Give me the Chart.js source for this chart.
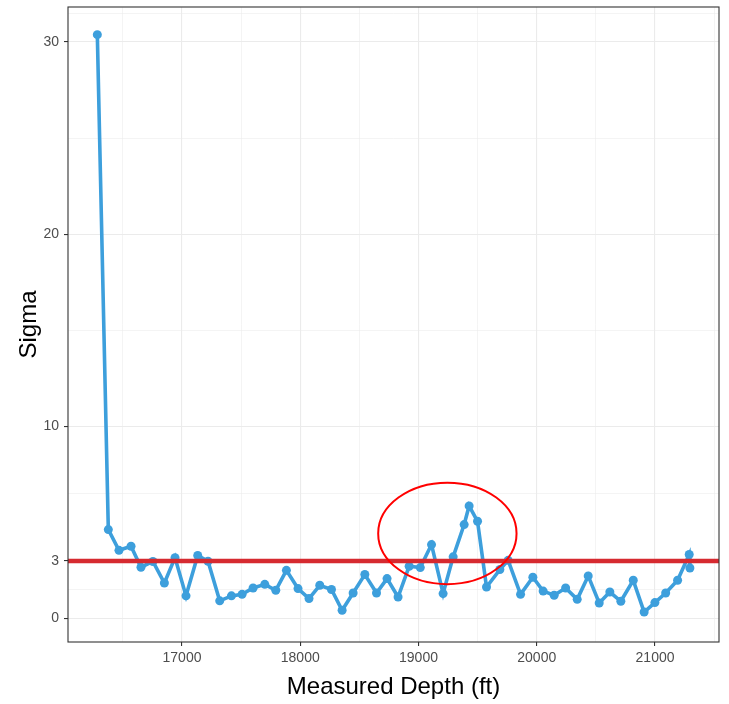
<!doctype html>
<html>
  <head>
    <script src="https://cdnjs.cloudflare.com/ajax/libs/Chart.js/4.4.1/chart.umd.min.js"></script>
    <style>
      body { margin: 0; background: #fff; }
      #box { width: 729px; height: 704px; }
    </style>
    <script>
      // depth (ft) and sigma
      let depth = [16284, 16377, 16467, 16569, 16653, 16754, 16851, 16941, 17034, 17133,
                   17220, 17319, 17418, 17508, 17601, 17700, 17793, 17883, 17981, 18074,
                   18165, 18264, 18354, 18447, 18546, 18645, 18734, 18827, 18921, 19015,
                   19110, 19208, 19293, 19386, 19428, 19499, 19575, 19688, 19758, 19863,
                   19967, 20054, 20147, 20244, 20342, 20435, 20528, 20618, 20711, 20816,
                   20908, 20999, 21090, 21191, 21289, 21295];
      let sigma = [30.38, 4.63, 3.55, 3.76, 2.67, 2.97, 1.85, 3.17, 1.18, 3.28,
                   2.98, 0.92, 1.18, 1.26, 1.59, 1.78, 1.47, 2.51, 1.56, 1.04,
                   1.73, 1.51, 0.43, 1.33, 2.29, 1.33, 2.08, 1.12, 2.72, 2.65,
                   3.85, 1.30, 3.21, 4.89, 5.86, 5.06, 1.64, 2.55, 3.03, 1.26,
                   2.15, 1.43, 1.21, 1.59, 1.00, 2.22, 0.81, 1.38, 0.90, 1.99,
                   0.34, 0.83, 1.33, 1.99, 3.33, 2.63];
      let threshold = 3;
      let xMajor = [17000, 18000, 19000, 20000, 21000];
      let xMinor = [16500, 17500, 18500, 19500, 20500, 21500];
      let yMajor = [0, 3, 10, 20, 30];
      let yMinor = [1.5, 6.5, 15, 25, 31.5];
      let xLimits = [16036, 21541];
      let yLimits = [-1.22, 31.82];
      // red circle drawn round the bump: centre and radii in data units
      let ringCenter = [19244, 4.43];
      let ringRadius = [585, 2.64];

      const blue = '#3d9fdc';
      const red = '#d62a30';

      function isMajor(list, v) { return list.indexOf(v) >= 0; }

      const panelPlugin = {
        id: 'panel',
        afterDatasetsDraw(chart) {
          const c = chart.ctx, xs = chart.scales.x, ys = chart.scales.y;
          const cx = xs.getPixelForValue(ringCenter[0]);
          const cy = ys.getPixelForValue(ringCenter[1]);
          const rx = Math.abs(xs.getPixelForValue(ringCenter[0] + ringRadius[0]) - cx);
          const ry = Math.abs(ys.getPixelForValue(ringCenter[1] + ringRadius[1]) - cy);
          c.save();
          c.beginPath();
          c.ellipse(cx, cy, rx, ry, 0, 0, Math.PI * 2);
          c.strokeStyle = '#ff0000';
          c.lineWidth = 2;
          c.stroke();
          const a = chart.chartArea;
          c.strokeStyle = '#333333';
          c.lineWidth = 1.1;
          c.strokeRect(a.left, a.top, a.right - a.left, a.bottom - a.top);
          c.restore();
        }
      };

      function startPage() {
        const pts = depth.map((d, i) => ({ x: d, y: sigma[i] }));
        new Chart(document.getElementById('c1'), {
          type: 'scatter',
          data: {
            datasets: [{
              data: [{ x: xLimits[0], y: threshold }, { x: xLimits[1], y: threshold }],
              showLine: true, borderColor: red, borderWidth: 4.5,
              pointRadius: 0, order: 0
            }, {
              data: pts,
              showLine: true, borderColor: blue, backgroundColor: blue,
              borderWidth: 3.6, pointRadius: 4.5, pointBorderWidth: 0,
              order: 1
            }]
          },
          options: {
            animation: false,
            responsive: true,
            maintainAspectRatio: false,
            layout: { padding: { left: 0, right: 10, top: 7, bottom: 0 } },
            plugins: { legend: { display: false }, tooltip: { enabled: false } },
            scales: {
              x: {
                type: 'linear', min: xLimits[0], max: xLimits[1],
                afterBuildTicks: s => {
                  s.ticks = xMajor.concat(xMinor).sort((a, b) => a - b).map(v => ({ value: v }));
                },
                afterFit: s => { s.height = 62; s.paddingLeft = 0; s.paddingRight = 0; },
                border: { display: false },
                grid: {
                  color: '#ebebeb',
                  lineWidth: ctx => isMajor(xMajor, ctx.tick.value) ? 1.1 : 0.55,
                  tickColor: ctx => isMajor(xMajor, ctx.tick.value) ? '#333333' : 'rgba(0,0,0,0)',
                  tickLength: 4, tickWidth: 1.1
                },
                ticks: {
                  autoSkip: false, maxRotation: 0, padding: 4,
                  color: '#4d4d4d', font: { family: 'Liberation Sans', size: 14 },
                  callback: v => isMajor(xMajor, v) ? String(v) : ''
                },
                title: {
                  display: true, text: 'Measured Depth (ft)', color: '#000',
                  font: { family: 'Liberation Sans', size: 24 }, padding: { top: 0, bottom: 2 }
                }
              },
              y: {
                type: 'linear', min: yLimits[0], max: yLimits[1],
                afterBuildTicks: s => {
                  s.ticks = yMajor.concat(yMinor).sort((a, b) => a - b).map(v => ({ value: v }));
                },
                afterFit: s => { s.width = 68; s.paddingTop = 0; s.paddingBottom = 0; },
                border: { display: false },
                grid: {
                  color: '#ebebeb',
                  lineWidth: ctx => isMajor(yMajor, ctx.tick.value) ? 1.1 : 0.55,
                  tickColor: ctx => isMajor(yMajor, ctx.tick.value) ? '#333333' : 'rgba(0,0,0,0)',
                  tickLength: 4, tickWidth: 1.1
                },
                ticks: {
                  autoSkip: false, padding: 5,
                  color: '#4d4d4d', font: { family: 'Liberation Sans', size: 14 },
                  callback: v => isMajor(yMajor, v) ? String(v) : ''
                },
                title: {
                  display: true, text: 'Sigma', color: '#000',
                  font: { family: 'Liberation Sans', size: 24 }, padding: { top: 15, bottom: 0 }
                }
              }
            }
          },
          plugins: [panelPlugin]
        });
      }
    </script>
  </head>
  <body onload="startPage()">
    <div id="box">
      <canvas id="c1"></canvas>
    </div>
  </body>
</html>
